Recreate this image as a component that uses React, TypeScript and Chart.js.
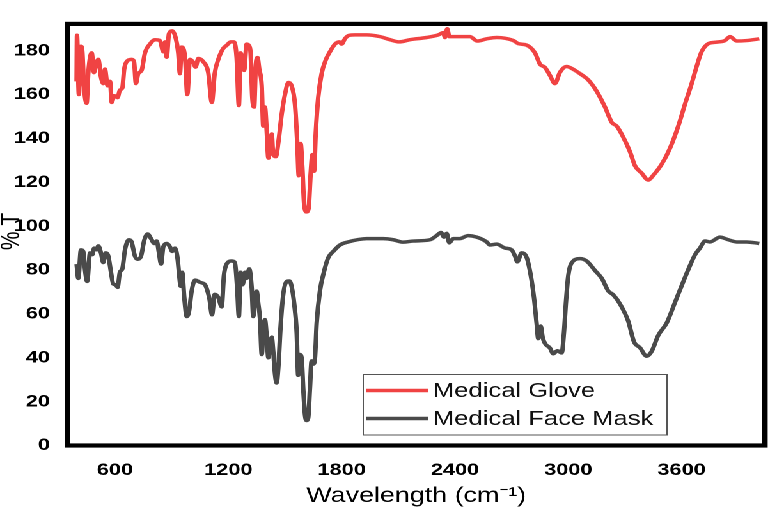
import React, { useEffect, useRef } from 'react';
import { Chart, registerables } from 'chart.js';

Chart.register(...registerables);

// ---- data (wavenumber cm^-1, %T) ----
const gloveWavenumbers = [
  397, 399, 409, 420, 427, 436, 450, 459, 477, 489, 498, 512, 526, 538, 547, 561, 574, 583, 596, 614,
  626, 639, 649, 662, 688, 701, 711, 723, 741, 759, 785, 812, 838, 856, 865, 874, 886, 903, 921, 935,
  944, 953, 971, 983, 997, 1015, 1027, 1041, 1067, 1094, 1113, 1128, 1147, 1173, 1191, 1213, 1230, 1244, 1256, 1265,
  1274, 1284, 1297, 1309, 1318, 1327, 1337, 1346, 1355, 1364, 1377, 1385, 1394, 1403, 1412, 1421, 1430, 1438, 1452, 1465,
  1483, 1500, 1518, 1535, 1553, 1565, 1573, 1583, 1592, 1602, 1615, 1625, 1636, 1645, 1654, 1663, 1676, 1694, 1717, 1738,
  1765, 1788, 1800, 1818, 1840, 1871, 1933, 2003, 2056, 2105, 2162, 2250, 2312, 2338, 2347, 2359, 2370, 2409, 2479, 2518,
  2568, 2621, 2709, 2735, 2780, 2824, 2850, 2876, 2903, 2929, 2956, 2991, 3018, 3062, 3106, 3150, 3194, 3230, 3256, 3291,
  3326, 3353, 3388, 3423, 3450, 3494, 3538, 3582, 3618, 3653, 3680, 3706, 3741, 3785, 3829, 3856, 3891, 3944, 4011,
];
const gloveTransmittance = [
  166, 187, 160, 182, 180, 164, 156, 170, 179, 170, 173, 176, 168, 165, 171.6, 164, 166, 156.4, 159.5, 158.6,
  162, 163, 171.6, 175, 176, 175, 165, 169.5, 171, 179, 183, 185, 184.6, 179.5, 184, 177, 187.7, 189, 186, 179,
  169.5, 181.6, 177, 160, 176, 174.6, 172.5, 176.4, 175, 170, 156.4, 169.5, 176, 181, 182.4, 184, 184, 177, 155, 179,
  176, 171, 183, 182.4, 179, 158.6, 154.3, 173.8, 176.8, 171.6, 164, 145.6, 154.3, 144, 131, 135.4, 142, 132.6, 131.7, 138.2,
  151.2, 160, 165.5, 164, 155.5, 138.2, 123, 137.7, 127, 109.5, 106.5, 108, 124, 132.6, 125, 142.5, 158.6, 169.5, 176, 179.5,
  183, 184, 183, 185.5, 187, 187.2, 187.2, 186.4, 185, 184, 185, 186, 187.2, 188.2, 186, 190, 186.4, 186.4, 186.4, 184.4,
  185.4, 186, 184.6, 183.2, 182.5, 178.9, 173.8, 172.4, 168.7, 165, 170.2, 172.8, 171.9, 169.5, 166.6, 161.5, 154.3, 147.3, 145.6, 140.5,
  134, 127.5, 124.2, 121, 123.2, 128.2, 135.5, 145.6, 155.7, 165, 173, 179.6, 183.2, 183.9, 184.6, 186.4, 184.4, 184.6, 185.4,
];

const maskWavenumbers = [
  397, 406, 420, 432, 441, 453, 468, 480, 490, 503, 512, 526, 538, 551, 565, 579, 591, 604, 614, 626,
  639, 653, 674, 688, 706, 720, 738, 755, 773, 791, 808, 821, 833, 844, 856, 874, 891, 903, 918, 932,
  940, 948, 956, 967, 980, 992, 1006, 1024, 1050, 1077, 1085, 1100, 1114, 1128, 1147, 1165, 1177, 1191, 1218, 1235,
  1247, 1256, 1265, 1276, 1288, 1297, 1311, 1324, 1332, 1341, 1350, 1359, 1368, 1377, 1385, 1394, 1403, 1412, 1421, 1430,
  1438, 1447, 1456, 1465, 1477, 1491, 1509, 1523, 1535, 1549, 1562, 1570, 1579, 1588, 1597, 1606, 1615, 1623, 1632, 1641,
  1650, 1659, 1668, 1685, 1706, 1729, 1756, 1791, 1835, 1933, 2020, 2073, 2126, 2179, 2268, 2303, 2326, 2342, 2356, 2370,
  2391, 2426, 2470, 2515, 2568, 2585, 2621, 2665, 2700, 2718, 2730, 2753, 2780, 2801, 2818, 2832, 2841, 2854, 2864, 2876,
  2903, 2920, 2942, 2965, 2977, 2988, 3000, 3026, 3062, 3097, 3141, 3177, 3212, 3238, 3273, 3317, 3348, 3379, 3415, 3441,
  3476, 3521, 3565, 3609, 3644, 3671, 3697, 3724, 3750, 3803, 3847, 3891, 3944, 4011,
];
const maskTransmittance = [
  82.7, 76.2, 89.2, 88.5, 80.5, 74.8, 87.8, 87, 90, 89.2, 91, 87.8, 83.4, 87.8, 86.3, 79, 73.6, 73.3, 72.1, 79,
  80.5, 89.2, 93.8, 92.8, 86.3, 84.9, 86.3, 93.5, 96.4, 94.3, 92.1, 93.2, 87.8, 82.7, 90.6, 92.1, 90.6, 88.5, 90, 84.9,
  77.6, 72.6, 79, 67.5, 58.8, 61, 70.4, 75.4, 74.4, 73.3, 71.8, 67, 59.6, 68.9, 67.5, 63.2, 77.6, 82.7, 84.1, 83.4,
  71.8, 58.8, 79, 73.3, 79, 76.2, 80.5, 71.8, 58.8, 66, 70.4, 64.6, 57.4, 41.5, 51.6, 57.4, 50.2, 40, 45.8, 49.4,
  42.9, 32.8, 28.5, 35.7, 54.5, 68.9, 74.8, 75, 72.6, 64.6, 51.6, 32, 41.5, 40, 25.6, 14, 11.4, 12.5, 25.6, 38.6,
  37.1, 40, 55.9, 70.4, 79, 85.6, 88.5, 91.4, 92.8, 94.3, 94.3, 93.8, 92.7, 93.2, 93.8, 95.7, 97.1, 95, 96.7, 92.4,
  94.3, 94.3, 95.7, 95, 92.8, 91.4, 91.8, 90, 89.2, 86.3, 83.7, 87.8, 85.6, 77.6, 67.5, 55.9, 48.7, 54.5, 49.4, 46.6,
  44.4, 41.8, 43.2, 42.2, 51.6, 66, 77.6, 84.1, 85.2, 84.1, 79.8, 76.2, 70.4, 68.7, 64.6, 56.7, 47.2, 44.6, 40.7, 42.9,
  50.2, 55.9, 65.3, 74.8, 82, 87, 90, 93.2, 92.8, 95, 93.8, 92.8, 92.8, 92.1,
];

const xTicks = [600, 1200, 1800, 2400, 3000, 3600];
const yTicks = [0, 20, 40, 60, 80, 100, 120, 140, 160, 180];
const seriesLabels = ['Medical Glove', 'Medical Face Mask'];
const seriesColors = ['#F04343', '#4A4A4A'];
const xTitle = 'Wavelength (cm⁻¹)';
const yTitle = '% T';

// ---- layout (the reference is horizontally stretched) ----
const SX = 1.279;
const W = 602;
const H = 514;
const FONT = "'Liberation Sans', Arial, sans-serif";

const decorPlugin = {
  id: 'decor',
  afterDraw(chart: any) {
    const { ctx, chartArea: a } = chart;
    ctx.save();
    // frame
    ctx.strokeStyle = '#000';
    ctx.lineWidth = 4.2;
    ctx.strokeRect(a.left, a.top, a.right - a.left, a.bottom - a.top);

    // legend box
    const lx = 284, ly = 374.5, lw = 237.5, lh = 60.5;
    ctx.fillStyle = '#fff';
    ctx.fillRect(lx, ly, lw, lh);
    ctx.lineWidth = 1;
    ctx.strokeStyle = '#555';
    ctx.strokeRect(lx, ly, lw, lh);
    const rows = [390.5, 418.5];
    ctx.font = `20px ${FONT}`;
    ctx.textBaseline = 'middle';
    ctx.textAlign = 'left';
    rows.forEach((y, i) => {
      ctx.strokeStyle = seriesColors[i];
      ctx.lineWidth = 3.5;
      ctx.beginPath();
      ctx.moveTo(286.5, y);
      ctx.lineTo(335, y);
      ctx.stroke();
      ctx.fillStyle = '#111';
      ctx.fillText(seriesLabels[i], 338.5, y + 1);
    });

    // y title
    ctx.translate(9.2, 231.5);
    ctx.rotate(-Math.PI / 2);
    ctx.textAlign = 'center';
    ctx.textBaseline = 'middle';
    ctx.fillStyle = '#000';
    ctx.font = `21px ${FONT}`;
    ctx.fillText(yTitle, 0, 0);
    ctx.restore();
  },
};

export default function App() {
  const ref = useRef<HTMLCanvasElement | null>(null);

  useEffect(() => {
    document.body.style.margin = '0';
    const canvas = ref.current;
    if (!canvas) return;
    const chart = new Chart(canvas, {
      type: 'line',
      data: {
        datasets: [
          {
            label: seriesLabels[0],
            data: gloveWavenumbers.map((x, i) => ({ x, y: gloveTransmittance[i] })),
            borderColor: seriesColors[0],
            backgroundColor: seriesColors[0],
            borderWidth: 3.5,
            pointRadius: 0,
            cubicInterpolationMode: 'monotone',
            fill: false,
          },
          {
            label: seriesLabels[1],
            data: maskWavenumbers.map((x, i) => ({ x, y: maskTransmittance[i] })),
            borderColor: seriesColors[1],
            backgroundColor: seriesColors[1],
            borderWidth: 3.5,
            pointRadius: 0,
            cubicInterpolationMode: 'monotone',
            fill: false,
          },
        ],
      },
      options: {
        responsive: false,
        animation: false,
        devicePixelRatio: 2,
        layout: { padding: { left: 0, right: 3.9, top: 2.5, bottom: 0 } },
        plugins: {
          legend: { display: false },
          tooltip: { enabled: false },
        },
        scales: {
          x: {
            type: 'linear',
            min: 349,
            max: 4041,
            grid: { display: false, drawTicks: false },
            border: { display: false },
            afterBuildTicks: (s: any) => {
              s.ticks = xTicks.map((v) => ({ value: v }));
            },
            afterFit: (s: any) => {
              s.height = 68.5;
            },
            ticks: {
              color: '#000',
              padding: 14.5,
              maxRotation: 0,
              callback: (v: any) => String(v),
              font: { family: FONT, size: 17, weight: 'bold' },
            },
            title: {
              display: true,
              text: xTitle,
              color: '#000',
              font: { family: FONT, size: 21 },
              padding: { top: 0, bottom: 5 },
            },
          },
          y: {
            type: 'linear',
            min: 0,
            max: 192.2,
            grid: { display: false, drawTicks: false },
            border: { display: false },
            afterBuildTicks: (s: any) => {
              s.ticks = yTicks.map((v) => ({ value: v }));
            },
            afterFit: (s: any) => {
              s.width = 52.8;
            },
            ticks: {
              color: '#000',
              padding: 13.7,
              callback: (v: any) => String(v),
              font: { family: FONT, size: 17, weight: 'bold' },
            },
          },
        },
      },
      plugins: [decorPlugin],
    });
    return () => chart.destroy();
  }, []);

  return (
    <div
      style={{
        width: W,
        height: H,
        transform: `scaleX(${SX})`,
        transformOrigin: '0 0',
        background: '#fff',
      }}
    >
      <canvas ref={ref} width={W} height={H} />
    </div>
  );
}
